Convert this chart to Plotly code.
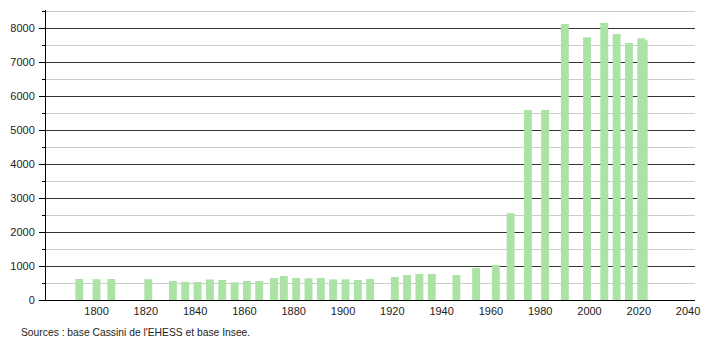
import plotly.graph_objects as go

years = [1793, 1800, 1806, 1821, 1831, 1836, 1841, 1846, 1851, 1856, 1861, 1866,
         1872, 1876, 1881, 1886, 1891, 1896, 1901, 1906, 1911, 1921, 1926, 1931,
         1936, 1946, 1954, 1962, 1968, 1975, 1982, 1990, 1999, 2006, 2011, 2016,
         2021, 2022]
population = [618, 612, 618, 612, 560, 535, 530, 603, 589, 520, 560, 560,
              648, 706, 648, 638, 648, 608, 608, 589, 618, 677, 736, 765,
              765, 736, 946, 1030, 2553, 5595, 5595, 8127, 7735, 8157, 7833, 7568,
              7706, 7650]
y_ticks = [0, 1000, 2000, 3000, 4000, 5000, 6000, 7000, 8000]
x_ticks = [1800, 1820, 1840, 1860, 1880, 1900, 1920, 1940, 1960, 1980, 2000, 2020, 2040]
source_text = "Sources : base Cassini de l'EHESS et base Insee."

font = "Liberation Sans, Arial, sans-serif"

fig = go.Figure()
fig.add_trace(go.Bar(
    x=years, y=population, width=3.2,
    marker=dict(color="#aae3a4", line=dict(width=0)),
    hoverinfo="x+y",
))

fig.update_layout(
    width=710, height=340,
    margin=dict(l=44, r=10, t=10, b=40),
    paper_bgcolor="white", plot_bgcolor="white",
    barmode="overlay",
    showlegend=False,
    font=dict(family=font, size=11, color="#222"),
    xaxis=dict(
        range=[1779.5, 2042.8],
        tickvals=x_ticks,
        ticktext=[str(v) for v in x_ticks],
        showgrid=False, zeroline=False,
        showline=True, linecolor="black", linewidth=1,
        ticks="", ticklabelstandoff=1,
        tickfont=dict(family=font, size=11, color="#222"),
    ),
    yaxis=dict(
        range=[0, 8540],
        tickvals=y_ticks,
        ticktext=[str(v) for v in y_ticks],
        showgrid=True, gridcolor="#333333", gridwidth=1,
        zeroline=False,
        showline=True, linecolor="black", linewidth=1,
        ticks="outside", ticklen=6, tickcolor="black", tickwidth=1,
        ticklabelstandoff=2,
        tickfont=dict(family=font, size=11, color="#222"),
        minor=dict(dtick=500, tick0=0, showgrid=True, gridcolor="#cccccc",
                   gridwidth=1, ticks="outside", ticklen=3, tickcolor="black"),
    ),
    annotations=[dict(
        text=source_text, xref="paper", yref="paper",
        x=(17 - 44) / 656, y=-0.085, xanchor="left", yanchor="top",
        showarrow=False, font=dict(family=font, size=10.3, color="#222"),
    )],
)

fig.write_html("out.html")
